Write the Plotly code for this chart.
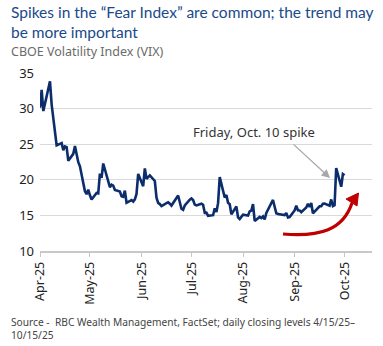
import plotly.graph_objects as go

dates = [
    "2025-04-15","2025-04-16","2025-04-17","2025-04-21","2025-04-22","2025-04-23","2025-04-24","2025-04-25",
    "2025-04-28","2025-04-29","2025-04-30","2025-05-01","2025-05-02","2025-05-05","2025-05-06","2025-05-07",
    "2025-05-08","2025-05-09","2025-05-12","2025-05-13","2025-05-14","2025-05-15","2025-05-16","2025-05-19",
    "2025-05-20","2025-05-21","2025-05-22","2025-05-23","2025-05-27","2025-05-28","2025-05-29","2025-05-30",
    "2025-06-02","2025-06-03","2025-06-04","2025-06-05","2025-06-06","2025-06-09","2025-06-10","2025-06-11",
    "2025-06-12","2025-06-13","2025-06-16","2025-06-17","2025-06-18","2025-06-20","2025-06-23","2025-06-24",
    "2025-06-25","2025-06-26","2025-06-27","2025-06-30","2025-07-01","2025-07-02","2025-07-03","2025-07-07",
    "2025-07-08","2025-07-09","2025-07-10","2025-07-11","2025-07-14","2025-07-15","2025-07-16","2025-07-17",
    "2025-07-18","2025-07-21","2025-07-22","2025-07-23","2025-07-24","2025-07-25","2025-07-28","2025-07-29",
    "2025-07-30","2025-07-31","2025-08-01","2025-08-04","2025-08-05","2025-08-06","2025-08-07","2025-08-08",
    "2025-08-11","2025-08-12","2025-08-13","2025-08-14","2025-08-15","2025-08-18","2025-08-19","2025-08-20",
    "2025-08-21","2025-08-22","2025-08-25","2025-08-26","2025-08-27","2025-08-28","2025-08-29","2025-09-02",
    "2025-09-03","2025-09-04","2025-09-05","2025-09-08","2025-09-09","2025-09-10","2025-09-11","2025-09-12",
    "2025-09-15","2025-09-16","2025-09-17","2025-09-18","2025-09-19","2025-09-22","2025-09-23","2025-09-24",
    "2025-09-25","2025-09-26","2025-09-29","2025-09-30","2025-10-01","2025-10-02","2025-10-03","2025-10-06",
    "2025-10-07","2025-10-08","2025-10-09","2025-10-10","2025-10-13","2025-10-14","2025-10-15",
]
vix = [
    30.12,32.64,29.65,33.82,30.57,28.45,26.47,24.84,
    25.15,24.17,24.70,24.60,22.68,23.64,24.76,23.55,
    22.48,21.90,18.39,17.98,18.62,17.83,17.24,18.14,
    18.09,20.87,20.28,22.29,18.96,19.31,19.18,18.57,
    18.36,17.69,17.61,18.48,16.77,17.16,16.95,17.26,
    18.02,20.82,19.11,21.60,20.14,20.62,19.83,17.48,
    16.76,16.59,16.32,16.73,16.83,16.64,16.38,17.79,
    16.81,15.94,15.78,16.40,17.20,17.38,17.16,16.52,
    16.41,16.65,16.50,15.37,15.39,14.93,15.03,15.98,
    15.48,16.72,20.38,17.52,17.85,16.77,16.57,15.15,
    16.25,14.73,14.49,14.83,15.09,14.99,15.57,15.69,
    16.60,14.22,14.79,14.62,14.85,14.43,15.36,17.17,
    16.35,15.30,15.18,15.11,15.04,15.35,14.71,14.76,
    15.69,16.36,15.72,15.70,15.45,16.10,16.64,16.18,
    16.74,15.29,16.12,16.28,16.29,16.63,16.65,16.37,
    17.24,16.30,16.43,21.66,19.03,20.81,20.64,
]
tick_vals = ["2025-04-15","2025-05-15","2025-06-15","2025-07-15","2025-08-15","2025-09-15","2025-10-15"]
tick_text = ["Apr-25","May-25","Jun-25","Jul-25","Aug-25","Sep-25","Oct-25"]
y_ticks = [10, 15, 20, 25, 30, 35]

FONT = "Noto Sans"
TFONT = "Lato"
NAVY = "#0c2d6b"

fig = go.Figure()
fig.add_trace(go.Scatter(x=dates, y=vix, mode="lines",
                         line=dict(color=NAVY, width=2.6), hoverinfo="skip", showlegend=False))

L, R, T, B = 40, 11, 73, 95
W, H = 383, 346
pw, ph = W - L - R, H - T - B

def px(x):
    return (x - L) / pw

def py(y):
    return (H - B - y) / ph

fig.update_layout(
    width=W, height=H,
    margin=dict(l=L, r=R, t=T, b=B),
    paper_bgcolor="white", plot_bgcolor="white",
    font=dict(family=FONT, color="#222222"),
    xaxis=dict(type="date", range=["2025-04-15", "2025-10-31 12:00"],
               tickvals=tick_vals, ticktext=tick_text, tickangle=-90,
               tickfont=dict(size=12.5, color="#222222"),
               showgrid=False, showline=True, linecolor="#c8c8c8", linewidth=1.5,
               ticks="outside", ticklen=4, tickcolor="#c8c8c8", zeroline=False),
    yaxis=dict(range=[10, 35], tickvals=y_ticks, tickfont=dict(size=13, color="#222222"),
               showgrid=True, gridcolor="#d9d9d9", gridwidth=1.2, zeroline=False,
               showline=False, ticks="", ticklabelstandoff=5),
)

ann = [
    dict(text="Spikes in the “Fear Index” are common; the trend may<br>be more important",
         xref="paper", yref="paper", x=px(9), y=py(1), xanchor="left", yanchor="top",
         align="left", showarrow=False,
         font=dict(family=TFONT, size=15.5, color="#1a4a8a")),
    dict(text="CBOE Volatility Index (VIX)", xref="paper", yref="paper",
         x=px(9), y=py(41), xanchor="left", yanchor="top", showarrow=False,
         font=dict(family=FONT, size=12.5, color="#6b6b6b")),
    dict(text="Source -  RBC Wealth Management, FactSet; daily closing levels 4/15/25–<br>10/15/25",
         xref="paper", yref="paper", x=px(9), y=py(313), xanchor="left", yanchor="top",
         align="left", showarrow=False,
         font=dict(family=FONT, size=10.2, color="#444444")),
    dict(text="Friday, Oct. 10 spike", xref="paper", yref="paper",
         x=px(254), y=py(132), xanchor="center", yanchor="middle", showarrow=False,
         font=dict(family=FONT, size=13, color="#333333")),
    dict(text="", xref="paper", yref="paper", x=px(330), y=py(178),
         ax=-38, ay=-35,
         showarrow=True, arrowhead=2, arrowsize=1.3, arrowwidth=1.3, arrowcolor="#a8a8a8"),
]
fig.update_layout(annotations=ann)

RED = "#c00000"
shapes = [
    dict(type="path", xref="paper", yref="paper",
         path=f"M {px(283)},{py(234)} C {px(320)},{py(237)} {px(343)},{py(230)} {px(352)},{py(203)}",
         line=dict(color=RED, width=3.2)),
    dict(type="path", xref="paper", yref="paper",
         path=f"M {px(358.5)},{py(193)} L {px(346)},{py(199)} L {px(357)},{py(206)} Z",
         fillcolor=RED, line=dict(color=RED, width=1)),
]
fig.update_layout(shapes=shapes)

fig.write_html("out.html")
